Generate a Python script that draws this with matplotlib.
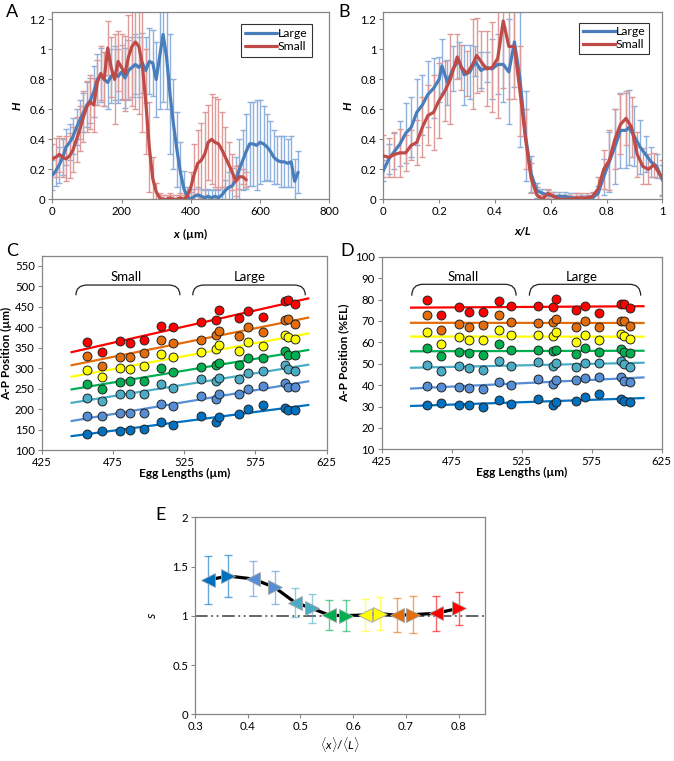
import numpy as np
import matplotlib
matplotlib.use("Agg")
import matplotlib.pyplot as plt
from matplotlib.path import Path
from matplotlib.patches import PathPatch
from matplotlib.ticker import FuncFormatter

plt.rcParams['font.family'] = ['Lato', 'DejaVu Sans']
plt.rcParams['mathtext.fontset'] = 'custom'
plt.rcParams['mathtext.it'] = 'Lato:italic'
plt.rcParams['mathtext.rm'] = 'Lato'
plt.rcParams['mathtext.bf'] = 'Lato:bold'
plt.rcParams['mathtext.bfit'] = 'Lato:italic:bold'

# ---------------- Panel A data ----------------
a_large_x = [0,10,20,30,40,50,60,70,80,90,100,110,120,130,140,150,160,170,180,190,200,
             210,220,230,240,250,260,270,280,290,300,310,320,330,340,350,360,370,380,390,
             400,410,420,430,440,450,460,470,480,490,500,510,520,530,540,550,560,570,580,
             590,600,610,620,630,640,650,660,670,680,690,700,710]
a_large_y = [0.16,0.19,0.23,0.28,0.35,0.38,0.42,0.48,0.53,0.58,0.63,0.66,0.72,0.80,0.83,0.80,
             0.78,0.82,0.84,0.82,0.85,0.81,0.86,0.88,0.90,0.88,0.91,0.86,0.92,0.91,0.80,0.95,
             1.10,0.95,0.70,0.50,0.33,0.18,0.07,0.02,0.00,0.02,0.03,0.02,0.01,0.02,0.01,0.02,
             0.01,0.03,0.06,0.08,0.09,0.13,0.20,0.26,0.32,0.37,0.37,0.36,0.38,0.37,0.35,0.32,
             0.28,0.26,0.25,0.25,0.24,0.25,0.12,0.18]
a_large_err = [0.10,0.10,0.12,0.12,0.12,0.12,0.12,0.12,0.13,0.13,0.15,0.15,0.17,0.17,0.18,0.18,
               0.18,0.18,0.18,0.18,0.18,0.20,0.20,0.20,0.20,0.20,0.20,0.22,0.22,0.22,0.25,0.35,
               0.45,0.35,0.40,0.30,0.25,0.20,0.12,0.06,0.05,0.05,0.05,0.05,0.05,0.05,0.05,0.05,
               0.05,0.05,0.07,0.10,0.12,0.15,0.20,0.20,0.25,0.28,0.28,0.30,0.28,0.25,0.22,0.20,
               0.18,0.16,0.17,0.17,0.16,0.17,0.15,0.14]

a_small_x = [0,10,20,30,40,50,60,70,80,90,100,110,120,130,140,150,160,170,180,190,200,
             210,220,230,240,250,260,270,280,290,300,310,320,330,340,350,360,370,380,390,
             400,410,420,430,440,450,460,470,480,490,500,510,520,530,540,550,560]
a_small_y = [0.27,0.28,0.30,0.28,0.27,0.29,0.33,0.40,0.47,0.55,0.62,0.65,0.63,0.78,0.84,0.80,
             1.01,0.88,0.80,0.92,0.88,0.84,0.95,1.02,1.05,1.02,0.90,0.65,0.35,0.14,0.05,0.01,
             0.00,0.00,0.01,0.00,0.00,0.01,0.00,0.02,0.08,0.17,0.24,0.26,0.30,0.38,0.40,0.38,
             0.37,0.33,0.28,0.23,0.18,0.12,0.15,0.15,0.13]
a_small_err = [0.10,0.13,0.12,0.13,0.15,0.15,0.15,0.15,0.15,0.17,0.17,0.18,0.18,0.15,0.18,0.18,
               0.18,0.20,0.30,0.20,0.22,0.25,0.28,0.40,0.45,0.45,0.45,0.35,0.30,0.14,0.06,0.03,
               0.03,0.03,0.03,0.03,0.03,0.03,0.03,0.03,0.10,0.20,0.22,0.25,0.28,0.25,0.30,0.30,
               0.30,0.25,0.20,0.15,0.12,0.10,0.08,0.05,0.05]

# ---------------- Panel B data ----------------
b_large_x = [0.00,0.02,0.04,0.06,0.08,0.10,0.12,0.14,0.16,0.18,0.20,0.21,0.23,0.25,0.27,0.29,
             0.31,0.33,0.35,0.37,0.39,0.41,0.43,0.45,0.47,0.49,0.51,0.53,0.55,0.57,0.59,0.61,
             0.63,0.65,0.67,0.69,0.71,0.73,0.75,0.77,0.79,0.81,0.83,0.85,0.87,0.88,0.90,0.92,
             0.94,0.96,0.98,1.00]
b_large_y = [0.19,0.27,0.32,0.37,0.44,0.48,0.58,0.63,0.70,0.74,0.80,0.89,0.78,0.87,0.93,0.83,
             0.85,0.92,0.86,0.88,0.87,0.90,0.90,0.85,1.05,0.80,0.42,0.17,0.06,0.04,0.03,0.02,
             0.02,0.02,0.01,0.01,0.00,0.00,0.01,0.04,0.15,0.25,0.35,0.46,0.46,0.48,0.42,0.35,
             0.30,0.25,0.22,0.13]
b_large_err = [0.07,0.10,0.12,0.15,0.20,0.20,0.22,0.20,0.22,0.20,0.15,0.18,0.15,0.15,0.12,0.20,
               0.18,0.10,0.12,0.10,0.20,0.20,0.25,0.35,0.30,0.45,0.30,0.12,0.05,0.03,0.03,0.03,
               0.03,0.03,0.03,0.03,0.03,0.03,0.03,0.05,0.12,0.20,0.25,0.25,0.25,0.25,0.20,0.18,
               0.12,0.10,0.08,0.10]

b_small_x = [0.00,0.02,0.04,0.06,0.08,0.10,0.12,0.14,0.16,0.18,0.20,0.22,0.24,0.265,0.28,0.30,
             0.32,0.335,0.35,0.37,0.39,0.41,0.43,0.45,0.47,0.49,0.51,0.53,0.55,0.57,0.59,0.61,
             0.63,0.65,0.67,0.69,0.71,0.73,0.75,0.77,0.79,0.81,0.83,0.85,0.87,0.89,0.91,0.93,
             0.95,0.97,1.00]
b_small_y = [0.29,0.28,0.30,0.31,0.31,0.36,0.38,0.48,0.56,0.58,0.66,0.72,0.80,0.95,0.88,0.84,
             0.90,0.96,0.92,0.87,0.88,0.94,1.19,1.02,1.02,0.72,0.40,0.14,0.03,0.00,0.04,0.02,
             0.00,0.00,0.00,0.01,0.01,0.01,0.02,0.07,0.20,0.26,0.40,0.50,0.54,0.48,0.30,0.22,
             0.20,0.23,0.14]
b_small_err = [0.14,0.13,0.15,0.16,0.12,0.10,0.15,0.20,0.20,0.25,0.25,0.20,0.30,0.15,0.15,0.15,
               0.30,0.25,0.20,0.25,0.30,0.40,0.45,0.35,0.35,0.30,0.20,0.10,0.05,0.03,0.03,0.03,
               0.03,0.03,0.03,0.03,0.03,0.03,0.03,0.08,0.13,0.20,0.20,0.20,0.18,0.20,0.15,0.12,
               0.10,0.08,0.12]

# ---------------- Panels C & D data ----------------
egg_length = [457, 467.5, 480, 487, 497, 509, 517, 536.5, 547.5, 549.5, 563.5, 570, 580, 596, 598, 602.5]
band_colors = ['#FF0000', '#E46C0A', '#FFFF00', '#00B050', '#4BACC6', '#558ED5', '#0070C0']
c_red    = [364.8,338.8,366.4,360.7,368.9,403.8,399.7,413.5,416.8,442.0,423.3,439.5,424.9,463.9,466.4,457.4]
c_orange = [330.7,305.5,327.4,326.6,337.2,368.9,360.7,369.7,381.0,390.8,379.4,401.4,389.2,417.6,420.0,407.0]
c_yellow = [295.0,277.9,301.5,298.2,304.7,335.6,327.4,340.4,347.0,356.7,342.0,364.8,355.1,381.0,376.2,370.5]
c_green  = [260.8,249.5,267.3,269.8,269.0,301.5,291.7,303.9,308.8,312.0,308.0,325.8,324.2,342.0,332.3,332.3]
c_teal   = [226.7,220.2,236.5,236.5,236.5,262.5,251.9,273.0,269.8,277.1,273.8,289.3,293.3,308.0,298.2,294.1]
c_blue   = [183.7,183.7,191.8,190.2,191.8,212.1,208.0,233.2,224.3,236.5,236.5,249.5,257.6,264.9,254.3,253.5]
c_dblue  = [140.6,147.9,147.9,150.4,152.0,169.9,161.7,183.7,169.9,180.4,187.7,200.7,210.5,202.4,198.3,198.3]

d_red    = [79.9,72.6,76.3,74.3,74.3,79.3,77.1,77.0,76.5,80.2,75.1,77.1,73.5,78.0,77.7,75.9]
d_orange = [72.6,65.6,68.4,67.1,67.9,72.6,69.6,68.9,69.3,70.9,67.1,70.1,67.1,70.1,70.1,67.6]
d_yellow = [64.8,59.4,62.6,61.2,61.2,65.9,63.6,63.4,63.1,64.7,60.3,63.4,60.9,63.7,62.8,61.4]
d_green  = [57.3,53.6,55.5,55.2,54.1,59.2,56.2,56.6,56.1,56.6,54.5,57.2,55.5,56.9,55.5,55.0]
d_teal   = [49.4,46.7,48.9,47.8,47.1,51.4,48.8,50.8,49.1,50.5,48.6,50.5,50.5,51.4,49.7,48.6]
d_blue   = [39.7,39.0,39.3,38.5,38.2,41.6,39.9,42.9,40.4,42.5,42.2,43.3,43.8,43.8,42.1,41.6]
d_dblue  = [30.6,31.5,30.6,30.6,29.9,33.0,31.2,33.7,30.6,32.3,32.7,34.6,35.8,33.5,32.7,32.3]

# ---------------- Panel E data ----------------
e_x   = [0.325,0.363,0.410,0.451,0.490,0.522,0.555,0.586,0.623,0.651,0.683,0.714,0.757,0.800]
e_y   = [1.364,1.404,1.374,1.289,1.134,1.076,1.005,1.002,1.008,1.022,1.005,1.012,1.025,1.076]
e_err = [0.245,0.212,0.178,0.166,0.147,0.150,0.154,0.160,0.160,0.164,0.172,0.184,0.180,0.165]
e_marker = ['<','>','<','>','<','>','<','>','<','>','<','>','<','>']
e_colors = ['#0070C0','#0070C0','#558ED5','#558ED5','#4BACC6','#4BACC6','#00B050','#00B050',
            '#FFFF00','#FFFF00','#E46C0A','#E46C0A','#FF0000','#FF0000']

W, H = 674, 761
fig = plt.figure(figsize=(W/100, H/100), dpi=100)

SPINE = '#868686'
TFS = 8.2
LFS = 8.6
BLUE = '#4A7EBB'
RED = '#BE4B48'

def ax_rect(l, t, r, b):
    return fig.add_axes([l/W, 1-b/H, (r-l)/W, (b-t)/H])

def style(ax):
    for s in ax.spines.values():
        s.set_color(SPINE)
        s.set_linewidth(0.9)
    ax.tick_params(direction='out', length=3, width=0.8, color=SPINE, labelsize=TFS, pad=2)

fmt = FuncFormatter(lambda v, p: ('%g' % round(v, 3)))

# ---- A ----
axA = ax_rect(52.3, 12, 329.3, 199.3)
style(axA)
axA.errorbar(a_large_x, a_large_y, yerr=a_large_err, fmt='none', ecolor='#8DB0DC', elinewidth=1.0, capsize=2.2, capthick=1.0, zorder=1)
axA.errorbar(a_small_x, a_small_y, yerr=a_small_err, fmt='none', ecolor='#DE9A98', elinewidth=1.0, capsize=2.2, capthick=1.0, zorder=1)
axA.plot(a_large_x, a_large_y, color=BLUE, lw=2.3, label='Large', zorder=3, solid_capstyle='round')
axA.plot(a_small_x, a_small_y, color=RED, lw=2.3, label='Small', zorder=3, solid_capstyle='round')
axA.set_xlim(0, 800)
axA.set_ylim(0, 1.25)
axA.set_xticks(np.arange(0, 801, 200))
axA.set_yticks(np.arange(0, 1.21, 0.2))
axA.yaxis.set_major_formatter(fmt)
axA.set_xlabel(r'$\mathbfit{x}$ (µm)', fontsize=LFS, fontweight='bold', labelpad=6)
axA.set_ylabel('H', fontsize=LFS, fontweight='bold', style='italic', labelpad=5)
legA = axA.legend(loc='upper right', bbox_to_anchor=(0.96, 0.97), fontsize=8.8, frameon=True, fancybox=False,
                  edgecolor='black', handlelength=2.6, handletextpad=0.1, borderpad=0.35, labelspacing=0.2)
legA.get_frame().set_linewidth(0.8)
fig.text(6/W, 1-4/H, 'A', fontsize=13, va='top', ha='left')

# ---- B ----
axB = ax_rect(383.3, 12, 662.3, 199.3)
style(axB)
axB.errorbar(b_large_x, b_large_y, yerr=b_large_err, fmt='none', ecolor='#8DB0DC', elinewidth=1.0, capsize=2.2, capthick=1.0, zorder=1)
axB.errorbar(b_small_x, b_small_y, yerr=b_small_err, fmt='none', ecolor='#DE9A98', elinewidth=1.0, capsize=2.2, capthick=1.0, zorder=1)
axB.plot(b_large_x, b_large_y, color=BLUE, lw=2.3, label='Large', zorder=3)
axB.plot(b_small_x, b_small_y, color=RED, lw=2.3, label='Small', zorder=3)
axB.set_xlim(0, 1)
axB.set_ylim(0, 1.25)
axB.set_xticks(np.arange(0, 1.01, 0.2))
axB.set_yticks(np.arange(0, 1.21, 0.2))
axB.xaxis.set_major_formatter(fmt)
axB.yaxis.set_major_formatter(fmt)
axB.set_xlabel('x/L', fontsize=LFS, fontweight='bold', style='italic', labelpad=6)
axB.set_ylabel('H', fontsize=LFS, fontweight='bold', style='italic', labelpad=5)
legB = axB.legend(loc='upper right', bbox_to_anchor=(0.975, 0.975), fontsize=8.8, frameon=True, fancybox=False,
                  edgecolor='black', handlelength=2.6, handletextpad=0.1, borderpad=0.3, labelspacing=0.15)
legB.get_frame().set_linewidth(0.8)
fig.text(338/W, 1-4/H, 'B', fontsize=13, va='top', ha='left')

def bracket(ax, x0, x1, yb, yt, rx, lw=0.9):
    verts = [(x0, yb), (x0, yt), (x0 + rx, yt), (x1 - rx, yt), (x1, yt), (x1, yb)]
    codes = [Path.MOVETO, Path.CURVE3, Path.CURVE3, Path.LINETO, Path.CURVE3, Path.CURVE3]
    ax.add_patch(PathPatch(Path(verts, codes), fill=False, lw=lw, color='#222222'))

def scatter_panel(ax, series):
    xs = np.array(egg_length)
    xl = np.array([446, 612])
    for vals, col in zip(series, band_colors):
        vals = np.array(vals)
        k, b = np.polyfit(xs, vals, 1)
        ax.plot(xl, k*xl + b, color=col, lw=1.6, zorder=2)
        ax.plot(xs, vals, 'o', ms=6.4, mfc=col, mec='#222222', mew=0.7, zorder=3)

# ---- C ----
axC = ax_rect(41.7, 255.5, 326.7, 450.3)
style(axC)
scatter_panel(axC, [c_red, c_orange, c_yellow, c_green, c_teal, c_blue, c_dblue])
axC.set_xlim(425, 625)
axC.set_ylim(100, 575)
axC.set_xticks(np.arange(425, 626, 50))
axC.set_yticks(np.arange(100, 551, 50))
axC.set_xlabel('Egg Lengths (µm)', fontsize=LFS, fontweight='bold', labelpad=0)
axC.set_ylabel('A-P Position (µm)', fontsize=LFS, fontweight='bold', labelpad=2)
bracket(axC, 449, 522, 478, 503, 8)
bracket(axC, 531, 610, 478, 503, 8)
axC.text(484, 523, 'Small', fontsize=9.5, ha='center', va='center')
axC.text(571, 523, 'Large', fontsize=9.5, ha='center', va='center')
fig.text(6/W, 1-243/H, 'C', fontsize=13, va='top', ha='left')

# ---- D ----
axD = ax_rect(381.7, 256.7, 661.7, 449.3)
style(axD)
scatter_panel(axD, [d_red, d_orange, d_yellow, d_green, d_teal, d_blue, d_dblue])
axD.set_xlim(425, 625)
axD.set_ylim(10, 100)
axD.set_xticks(np.arange(425, 626, 50))
axD.set_yticks(np.arange(10, 101, 10))
axD.set_xlabel('Egg Lengths (µm)', fontsize=LFS, fontweight='bold', labelpad=0)
axD.set_ylabel('A-P Position (%EL)', fontsize=LFS, fontweight='bold', labelpad=4)
bracket(axD, 446.5, 521, 81.8, 87.1, 8)
bracket(axD, 530.5, 610, 81.8, 87.1, 8)
axD.text(483, 90.7, 'Small', fontsize=9.5, ha='center', va='center')
axD.text(568, 90.7, 'Large', fontsize=9.5, ha='center', va='center')
fig.text(340/W, 1-243/H, 'D', fontsize=13, va='top', ha='left')

# ---- E ----
axE = ax_rect(195, 517.3, 485, 714.3)
style(axE)
axE.plot([0.3, 0.85], [1, 1], color='#595959', lw=1.3, linestyle=(0, (7, 2, 1, 2, 1, 2)), zorder=1)
for xv, yv, ev, c in zip(e_x, e_y, e_err, e_colors):
    axE.errorbar([xv], [yv], yerr=[ev], fmt='none', ecolor=c, alpha=0.6, elinewidth=1.0, capsize=3, capthick=1.0, zorder=2)
axE.plot(e_x, e_y, color='black', lw=2.3, zorder=3)
for xv, yv, m, c in zip(e_x, e_y, e_marker, e_colors):
    axE.plot([xv], [yv], marker=m, ms=9.5, mfc=c, mec='#A6A6A6', mew=0.6, zorder=4, linestyle='none')
axE.set_xlim(0.3, 0.85)
axE.set_ylim(0, 2)
axE.set_xticks(np.arange(0.3, 0.81, 0.1))
axE.set_yticks(np.arange(0, 2.01, 0.5))
axE.xaxis.set_major_formatter(fmt)
axE.yaxis.set_major_formatter(fmt)
axE.set_xlabel(r'$\langle x\rangle/\langle L\rangle$', fontsize=LFS, labelpad=2)
axE.set_ylabel('s', fontsize=LFS + 1, style='italic', labelpad=10)
fig.text(155/W, 1-507/H, 'E', fontsize=13, va='top', ha='left')

fig.savefig('out.png', dpi=100)
